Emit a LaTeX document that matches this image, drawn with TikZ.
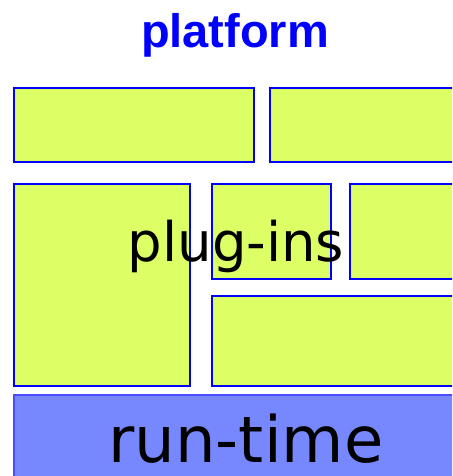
\documentclass[tikz,border=0pt]{standalone}
\usepackage{fontspec}
\setmainfont{DejaVu Sans}
\newfontfamily\titlefont{Liberation Sans}
\definecolor{plugyellow}{HTML}{DDFF66}
\definecolor{runblue}{HTML}{7788FF}
\tikzset{every picture/.style = {x=1pt, y=1pt}}
\tikzset{brick/.style = {draw=blue, line width=2pt, fill=plugyellow, anchor=north west, inner sep=0}}
\tikzset{base/.style = {draw=blue!70!white, line width=2pt, fill=runblue, anchor=north west, inner sep=0}}
\tikzset{label/.style = {black, anchor=base, inner sep=0}}

\begin{document}
\begin{tikzpicture}
  \useasboundingbox (0, 0) rectangle (452, 476);
  \clip (0, 0) rectangle (452, 476);
  \node[blue, anchor=base, inner sep=0] (title) at (235, 428)
    {\titlefont\fontsize{47}{50}\selectfont\bfseries platform};
  \node[brick, minimum width=240, minimum height=74] (topleft) at (13, 389) {};
  \node[brick, minimum width=210, minimum height=74] (topright) at (269, 389) {};
  \node[brick, minimum width=176, minimum height=202] (bigleft) at (13, 293) {};
  \node[brick, minimum width=119, minimum height=95] (midsmall) at (211, 293) {};
  \node[brick, minimum width=130, minimum height=95] (rightsmall) at (349, 293) {};
  \node[brick, minimum width=260, minimum height=90] (lowerwide) at (211, 181) {};
  \node[base, minimum width=460, minimum height=110] (runtime) at (13, 82) {};
  \node[label] (pluglabel) at (236, 214) {\fontsize{54.5}{58}\selectfont plug-ins};
  \node[label] (runlabel) at (246, 13) {\fontsize{64}{68}\selectfont run-time};
\end{tikzpicture}
\end{document}
